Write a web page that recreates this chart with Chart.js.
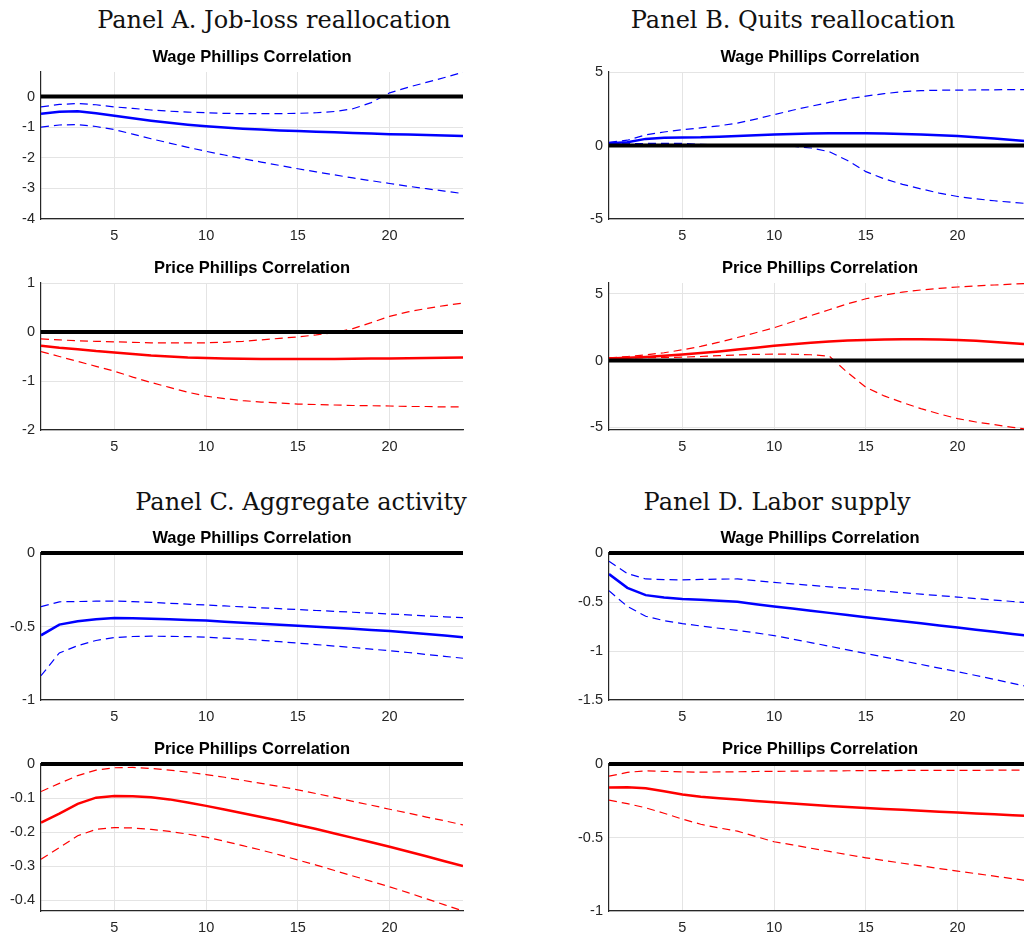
<!DOCTYPE html>
<html>
<head>
<meta charset="utf-8">
<title>Phillips correlations</title>
<script src="https://cdn.jsdelivr.net/npm/chart.js@4.4.1/dist/chart.umd.min.js"></script>
<style>
html, body { margin: 0; padding: 0; background: #fff; overflow: hidden; width: 1024px; height: 937px; }
.panel-title { position: absolute; font-family: "DejaVu Serif", serif; font-size: 24px; line-height: 24px; color: #111; white-space: nowrap; transform: translateX(-50%); }
canvas { position: absolute; }
</style>
</head>
<body>
<div class="panel-title" style="left:274px; top:8px;">Panel A. Job-loss reallocation</div>
<div class="panel-title" style="left:793px; top:8px;">Panel B. Quits reallocation</div>
<div class="panel-title" style="left:301px; top:490px;">Panel C. Aggregate activity</div>
<div class="panel-title" style="left:777px; top:490px;">Panel D. Labor supply</div>

<canvas id="jobWageChart"></canvas>
<canvas id="jobPriceChart"></canvas>
<canvas id="quitsWageChart"></canvas>
<canvas id="quitsPriceChart"></canvas>
<canvas id="aggWageChart"></canvas>
<canvas id="aggPriceChart"></canvas>
<canvas id="laborWageChart"></canvas>
<canvas id="laborPriceChart"></canvas>

<script>
// Horizon (months) and shared x ticks
var horizon = [1, 2, 3, 4, 5, 6, 7, 8, 9, 10, 11, 12, 13, 14, 15, 16, 17, 18, 19, 20, 21, 22, 23, 24];
var xTicks = [5, 10, 15, 20];

// Panel A: job-loss reallocation
var jobWage   = [-0.56, -0.50, -0.48, -0.55, -0.63, -0.71, -0.79, -0.86, -0.92, -0.97, -1.01, -1.05, -1.08, -1.11, -1.13, -1.15, -1.17, -1.19, -1.21, -1.23, -1.24, -1.26, -1.27, -1.29];
var jobWageHi = [-0.34, -0.26, -0.23, -0.27, -0.34, -0.39, -0.44, -0.48, -0.51, -0.53, -0.55, -0.56, -0.56, -0.56, -0.55, -0.53, -0.49, -0.40, -0.20, 0.12, 0.30, 0.46, 0.62, 0.79];
var jobWageLo = [-1.00, -0.93, -0.92, -0.98, -1.08, -1.23, -1.38, -1.52, -1.66, -1.79, -1.91, -2.03, -2.14, -2.25, -2.36, -2.46, -2.56, -2.66, -2.75, -2.84, -2.93, -3.01, -3.09, -3.17];
var jobWageTicks = [0, -1, -2, -3, -4];

var jobPrice   = [-0.28, -0.32, -0.35, -0.39, -0.42, -0.45, -0.48, -0.50, -0.52, -0.53, -0.54, -0.545, -0.55, -0.55, -0.55, -0.55, -0.55, -0.545, -0.54, -0.54, -0.535, -0.53, -0.525, -0.52];
var jobPriceHi = [-0.14, -0.16, -0.18, -0.19, -0.20, -0.21, -0.22, -0.22, -0.22, -0.22, -0.21, -0.19, -0.16, -0.13, -0.10, -0.06, -0.01, 0.07, 0.19, 0.32, 0.41, 0.48, 0.54, 0.59];
var jobPriceLo = [-0.40, -0.50, -0.60, -0.70, -0.80, -0.92, -1.03, -1.13, -1.23, -1.31, -1.36, -1.40, -1.43, -1.45, -1.47, -1.48, -1.49, -1.50, -1.505, -1.51, -1.52, -1.52, -1.53, -1.53];
var jobPriceTicks = [1, 0, -1, -2];

// Panel B: quits reallocation
var quitsWage   = [0.15, 0.22, 0.45, 0.52, 0.55, 0.56, 0.60, 0.64, 0.70, 0.74, 0.78, 0.81, 0.83, 0.84, 0.84, 0.82, 0.79, 0.75, 0.70, 0.64, 0.56, 0.47, 0.37, 0.27];
var quitsWageHi = [0.22, 0.36, 0.72, 0.92, 1.07, 1.20, 1.34, 1.52, 1.80, 2.10, 2.40, 2.67, 2.93, 3.17, 3.36, 3.53, 3.66, 3.73, 3.76, 3.77, 3.78, 3.79, 3.80, 3.80];
var quitsWageLo = [0.16, 0.12, 0.14, 0.15, 0.14, 0.08, 0.04, 0.02, 0.01, 0.00, -0.05, -0.17, -0.42, -1.02, -1.78, -2.27, -2.64, -2.95, -3.24, -3.47, -3.63, -3.76, -3.87, -3.97];
var quitsWageTicks = [5, 0, -5];

var quitsPrice   = [0.15, 0.20, 0.27, 0.35, 0.45, 0.56, 0.68, 0.82, 0.96, 1.10, 1.22, 1.33, 1.42, 1.49, 1.54, 1.58, 1.60, 1.60, 1.58, 1.53, 1.47, 1.39, 1.29, 1.19];
var quitsPriceHi = [0.20, 0.30, 0.42, 0.58, 0.80, 1.06, 1.37, 1.72, 2.08, 2.45, 2.90, 3.36, 3.80, 4.24, 4.62, 4.90, 5.12, 5.28, 5.40, 5.50, 5.58, 5.65, 5.72, 5.78];
var quitsPriceLo = [0.20, 0.20, 0.21, 0.23, 0.25, 0.30, 0.36, 0.42, 0.46, 0.48, 0.47, 0.43, 0.33, -0.90, -2.00, -2.65, -3.15, -3.60, -4.00, -4.35, -4.60, -4.80, -5.00, -5.18];
var quitsPriceTicks = [5, 0, -5];

// Panel C: aggregate activity
var aggWage   = [-0.56, -0.487, -0.465, -0.45, -0.443, -0.444, -0.447, -0.45, -0.455, -0.46, -0.467, -0.474, -0.481, -0.488, -0.495, -0.502, -0.509, -0.516, -0.523, -0.531, -0.541, -0.551, -0.562, -0.573];
var aggWageHi = [-0.365, -0.332, -0.33, -0.328, -0.327, -0.331, -0.336, -0.342, -0.348, -0.354, -0.36, -0.367, -0.373, -0.379, -0.385, -0.391, -0.397, -0.403, -0.409, -0.415, -0.421, -0.428, -0.434, -0.44];
var aggWageLo = [-0.835, -0.68, -0.63, -0.595, -0.575, -0.568, -0.566, -0.567, -0.569, -0.573, -0.579, -0.586, -0.594, -0.603, -0.613, -0.623, -0.633, -0.643, -0.654, -0.665, -0.677, -0.69, -0.703, -0.716];
var aggWageTicks = [0, -0.5, -1];

var aggPrice   = [-0.172, -0.146, -0.117, -0.099, -0.094, -0.095, -0.098, -0.104, -0.113, -0.123, -0.134, -0.145, -0.156, -0.167, -0.179, -0.191, -0.204, -0.217, -0.230, -0.243, -0.257, -0.271, -0.286, -0.30];
var aggPriceHi = [-0.081, -0.057, -0.034, -0.018, -0.011, -0.010, -0.013, -0.018, -0.024, -0.031, -0.039, -0.048, -0.057, -0.066, -0.076, -0.087, -0.098, -0.110, -0.121, -0.133, -0.144, -0.156, -0.167, -0.179];
var aggPriceLo = [-0.280, -0.246, -0.211, -0.192, -0.187, -0.188, -0.192, -0.198, -0.206, -0.215, -0.227, -0.240, -0.253, -0.267, -0.282, -0.297, -0.313, -0.329, -0.345, -0.361, -0.378, -0.396, -0.414, -0.432];
var aggPriceTicks = [0, -0.1, -0.2, -0.3, -0.4];

// Panel D: labor supply
var laborWage   = [-0.215, -0.355, -0.43, -0.455, -0.47, -0.478, -0.487, -0.498, -0.522, -0.545, -0.567, -0.589, -0.611, -0.633, -0.655, -0.676, -0.697, -0.718, -0.739, -0.76, -0.782, -0.804, -0.826, -0.848];
var laborWageHi = [-0.085, -0.21, -0.265, -0.272, -0.274, -0.27, -0.266, -0.265, -0.283, -0.30, -0.315, -0.33, -0.345, -0.36, -0.375, -0.39, -0.405, -0.42, -0.435, -0.45, -0.465, -0.48, -0.495, -0.51];
var laborWageLo = [-0.385, -0.545, -0.645, -0.69, -0.72, -0.745, -0.768, -0.79, -0.815, -0.843, -0.878, -0.914, -0.951, -0.988, -1.025, -1.062, -1.10, -1.137, -1.174, -1.211, -1.25, -1.29, -1.33, -1.37];
var laborWageTicks = [0, -0.5, -1, -1.5];

var laborPrice   = [-0.16, -0.158, -0.165, -0.185, -0.207, -0.222, -0.233, -0.242, -0.252, -0.261, -0.269, -0.277, -0.285, -0.293, -0.30, -0.306, -0.312, -0.318, -0.324, -0.33, -0.336, -0.342, -0.348, -0.353];
var laborPriceHi = [-0.083, -0.057, -0.046, -0.05, -0.054, -0.055, -0.054, -0.053, -0.051, -0.05, -0.049, -0.048, -0.047, -0.046, -0.045, -0.045, -0.044, -0.044, -0.043, -0.043, -0.043, -0.042, -0.042, -0.042];
var laborPriceLo = [-0.245, -0.27, -0.298, -0.335, -0.375, -0.41, -0.435, -0.457, -0.493, -0.529, -0.55, -0.573, -0.595, -0.617, -0.638, -0.657, -0.675, -0.693, -0.711, -0.729, -0.746, -0.763, -0.780, -0.797];
var laborPriceTicks = [0, -0.5, -1];

var BLUE = '#0000ff';
var RED = '#ff0000';
var tickFont = { family: 'Liberation Sans, Arial, sans-serif', size: 14.5 };

// plot-area geometry: left edge of each column, top of each row
var colLeft = [41, 609];
var rowTop = [72, 283, 553, 764];
var yAxisW = 41, plotW = 422, plotH = 147, titleH = 25, xAxisH = 30, padRight = 6;

function placeCanvas(id, col, row) {
    var c = document.getElementById(id);
    c.width = yAxisW + plotW + padRight;
    c.height = titleH + plotH + xAxisH;
    c.style.left = (colLeft[col] - yAxisW) + 'px';
    c.style.top = (rowTop[row] - titleH) + 'px';
    return c.getContext('2d');
}

function makeChart(id, col, row, title, color, mid, hi, lo, yMin, yMax, yTicks) {
    var ctx = placeCanvas(id, col, row);
    return new Chart(ctx, {
        type: 'line',
        data: {
            labels: horizon,
            datasets: [
                { data: horizon.map(function () { return 0; }), borderColor: '#000', borderWidth: 4, clip: 4 },
                { data: mid, borderColor: color, borderWidth: 2.5 },
                { data: hi, borderColor: color, borderWidth: 1.2, borderDash: [8, 5] },
                { data: lo, borderColor: color, borderWidth: 1.2, borderDash: [8, 5] }
            ]
        },
        options: {
            responsive: false,
            animation: false,
            events: [],
            elements: {
                point: { radius: 0 },
                line: { tension: 0, borderCapStyle: 'butt', fill: false }
            },
            layout: { padding: { left: 0, right: padRight, top: 0, bottom: 0 } },
            scales: {
                x: {
                    type: 'linear',
                    min: 1,
                    max: 24,
                    afterBuildTicks: function (axis) {
                        axis.ticks = xTicks.map(function (v) { return { value: v }; });
                    },
                    afterFit: function (axis) { axis.height = xAxisH; },
                    grid: { color: '#e4e4e4', drawTicks: false },
                    border: { color: '#262626', width: 1.2 },
                    ticks: { padding: 8, color: '#262626', font: tickFont, maxRotation: 0,
                        callback: function (v) { return String(v); } }
                },
                y: {
                    min: yMin,
                    max: yMax,
                    afterBuildTicks: function (axis) {
                        axis.ticks = yTicks.map(function (v) { return { value: v }; });
                    },
                    afterFit: function (axis) { axis.width = yAxisW; },
                    grid: { color: '#e4e4e4', drawTicks: false },
                    border: { color: '#262626', width: 1.2 },
                    ticks: { padding: 6, color: '#262626', font: tickFont,
                        callback: function (v) { return String(v); } }
                }
            },
            plugins: {
                legend: { display: false },
                tooltip: { enabled: false },
                title: {
                    display: true,
                    fullSize: false,
                    text: title,
                    color: '#000',
                    font: { family: 'Liberation Sans, Arial, sans-serif', size: 16.5, weight: 'bold', lineHeight: '20px' },
                    padding: { top: 0, bottom: 5 }
                }
            }
        }
    });
}

makeChart('jobWageChart', 0, 0, 'Wage Phillips Correlation', BLUE, jobWage, jobWageHi, jobWageLo, -4, 0.8, jobWageTicks);
makeChart('jobPriceChart', 0, 1, 'Price Phillips Correlation', RED, jobPrice, jobPriceHi, jobPriceLo, -2, 1, jobPriceTicks);
makeChart('quitsWageChart', 1, 0, 'Wage Phillips Correlation', BLUE, quitsWage, quitsWageHi, quitsWageLo, -5, 5, quitsWageTicks);
makeChart('quitsPriceChart', 1, 1, 'Price Phillips Correlation', RED, quitsPrice, quitsPriceHi, quitsPriceLo, -5.2, 5.8, quitsPriceTicks);
makeChart('aggWageChart', 0, 2, 'Wage Phillips Correlation', BLUE, aggWage, aggWageHi, aggWageLo, -1, 0, aggWageTicks);
makeChart('aggPriceChart', 0, 3, 'Price Phillips Correlation', RED, aggPrice, aggPriceHi, aggPriceLo, -0.432, 0, aggPriceTicks);
makeChart('laborWageChart', 1, 2, 'Wage Phillips Correlation', BLUE, laborWage, laborWageHi, laborWageLo, -1.5, 0, laborWageTicks);
makeChart('laborPriceChart', 1, 3, 'Price Phillips Correlation', RED, laborPrice, laborPriceHi, laborPriceLo, -1, 0, laborPriceTicks);
</script>
</body>
</html>
